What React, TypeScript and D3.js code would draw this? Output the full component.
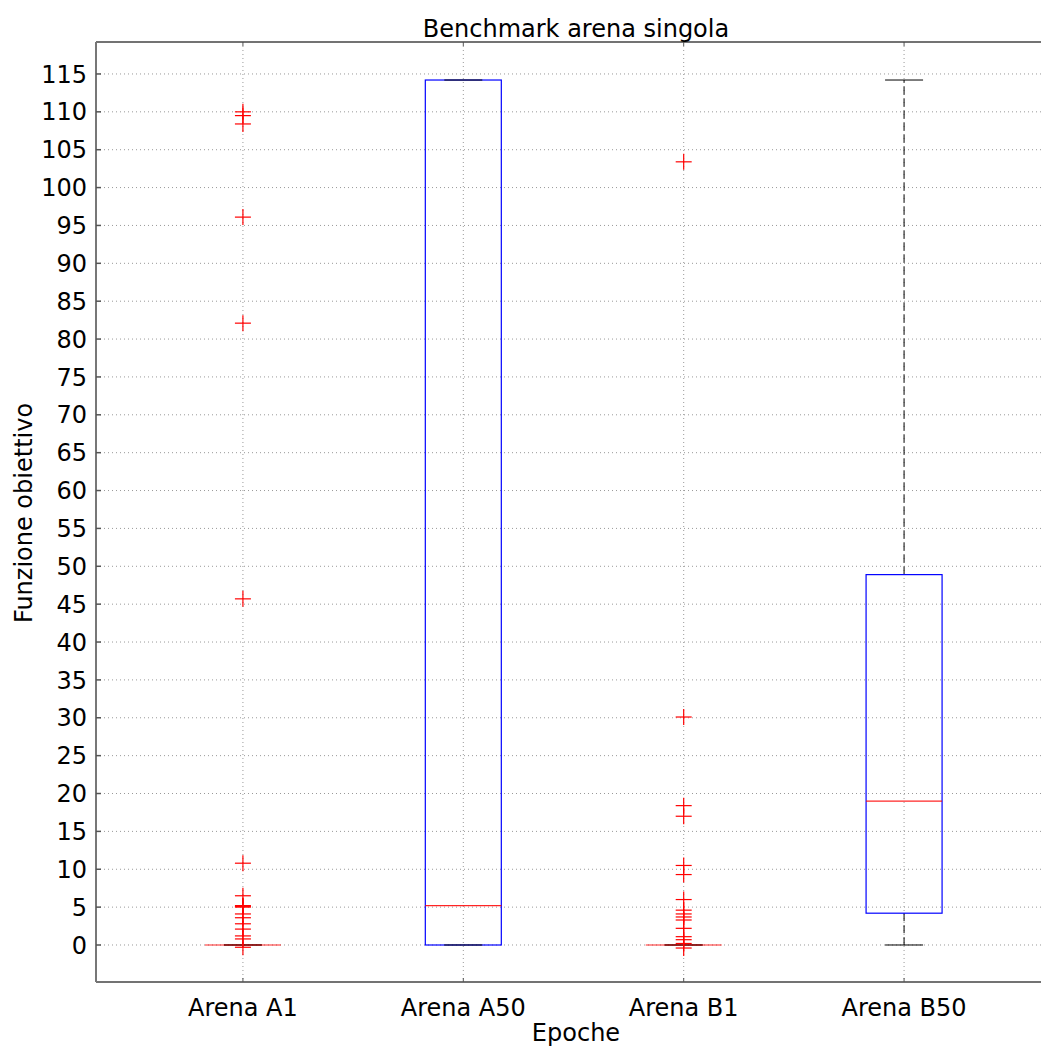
import React from "react";
import * as d3 from "d3";

const categories = ["Arena A1", "Arena A50", "Arena B1", "Arena B50"];
const q1 = [0, 0, 0, 4.2];
const medians = [0, 5.2, 0, 19];
const q3 = [0, 114.2, 0, 48.9];
const whiskerLow = [0, 0, 0, 0];
const whiskerHigh = [0, 114.2, 0, 114.2];
const outliersA1 = [110, 109.5, 108.4, 96.1, 82.1, 45.7, 10.8, 6.5, 5.2, 5.1, 5.0, 4.1, 3.6, 2.8, 2.1, 1.2, 0.8, -0.3];
const outliersA50: number[] = [];
const outliersB1 = [103.4, 30.1, 18.4, 17.0, 10.5, 9.3, 6.0, 4.6, 4.1, 3.7, 3.3, 2.2, 1.1, 0.7, 0.2, -0.4];
const outliersB50: number[] = [];
const outliers = [outliersA1, outliersA50, outliersB1, outliersB50];
const yTicks = d3.range(0, 116, 5);

const W = 1041;
const H = 1048;
const left = 96;
const top = 42;
const bottom = 982;
const right = 1051;

const App = () => {
  const x = d3.scaleLinear().domain([1 / 3, 14 / 3]).range([left, right]);
  const y = d3.scaleLinear().domain([-4.885, 119.22]).range([bottom, top]);
  const boxHalf = 38;
  const capHalf = 19;
  const cross = 8;
  const font = "DejaVu Sans, sans-serif";

  return (
    <div style={{ position: "absolute", left: 0, top: 0 }}>
      <svg width={W} height={H} style={{ display: "block", background: "#fff" }}>
        {/* grid */}
        {yTicks.map((t) => (
          <line key={"gy" + t} x1={left} x2={right} y1={y(t)} y2={y(t)}
            stroke="#999" strokeWidth={1} strokeDasharray="1,3" />
        ))}
        {categories.map((c, i) => (
          <line key={"gx" + c} x1={x(i + 1)} x2={x(i + 1)} y1={top} y2={bottom}
            stroke="#999" strokeWidth={1} strokeDasharray="1,3" />
        ))}

        {/* boxes */}
        {categories.map((c, i) => {
          const cx = x(i + 1);
          return (
            <g key={"box" + c}>
              {whiskerHigh[i] > q3[i] && (
                <line x1={cx} x2={cx} y1={y(q3[i])} y2={y(whiskerHigh[i])}
                  stroke="#000" strokeWidth={1} strokeDasharray="8,4" />
              )}
              {whiskerLow[i] < q1[i] && (
                <line x1={cx} x2={cx} y1={y(q1[i])} y2={y(whiskerLow[i])}
                  stroke="#000" strokeWidth={1} strokeDasharray="8,4" />
              )}
              <rect x={cx - boxHalf} y={y(q3[i])} width={boxHalf * 2}
                height={Math.max(0, y(q1[i]) - y(q3[i]))}
                fill="none" stroke="#0000ff" strokeWidth={1.2} />
              <line x1={cx - capHalf} x2={cx + capHalf} y1={y(whiskerHigh[i])} y2={y(whiskerHigh[i])}
                stroke="#000" strokeWidth={1} />
              <line x1={cx - capHalf} x2={cx + capHalf} y1={y(whiskerLow[i])} y2={y(whiskerLow[i])}
                stroke="#000" strokeWidth={1} />
              <line x1={cx - boxHalf} x2={cx + boxHalf} y1={y(medians[i])} y2={y(medians[i])}
                stroke="#ff0000" strokeWidth={1.2} opacity={0.85} />
              {outliers[i].map((v, j) => (
                <g key={j} stroke="#ff0000" strokeWidth={1.2}>
                  <line x1={cx - cross} x2={cx + cross} y1={y(v)} y2={y(v)} />
                  <line x1={cx} x2={cx} y1={y(v) - cross} y2={y(v) + cross} />
                </g>
              ))}
            </g>
          );
        })}

        {/* axes frame */}
        <line x1={left} x2={right} y1={top} y2={top} stroke="#444" strokeWidth={1.5} />
        <line x1={left} x2={right} y1={bottom} y2={bottom} stroke="#444" strokeWidth={1.5} />
        <line x1={left} x2={left} y1={top} y2={bottom} stroke="#777" strokeWidth={2} />

        {yTicks.map((t) => (
          <g key={"yt" + t}>
            <line x1={left} x2={left + 5} y1={y(t)} y2={y(t)} stroke="#555" strokeWidth={1.5} />
            <text x={87} y={y(t)} dy="0.36em" textAnchor="end" fontFamily={font} fontSize={24} fill="#000">
              {t}
            </text>
          </g>
        ))}
        {categories.map((c, i) => (
          <g key={"xt" + c}>
            <line x1={x(i + 1)} x2={x(i + 1)} y1={top} y2={top + 4} stroke="#555" strokeWidth={1} />
            <line x1={x(i + 1)} x2={x(i + 1)} y1={bottom} y2={bottom - 4} stroke="#555" strokeWidth={1} />
            <text x={x(i + 1)} y={1016} textAnchor="middle" fontFamily={font} fontSize={24} fill="#000">
              {c}
            </text>
          </g>
        ))}

        <text x={576} y={37} textAnchor="middle" fontFamily={font} fontSize={24} fill="#000">
          Benchmark arena singola
        </text>
        <text x={576} y={1041} textAnchor="middle" fontFamily={font} fontSize={24} fill="#000">
          Epoche
        </text>
        <text transform={`translate(32,513) rotate(-90)`} textAnchor="middle" fontFamily={font} fontSize={24} fill="#000">
          Funzione obiettivo
        </text>
      </svg>
    </div>
  );
};

export default App;
